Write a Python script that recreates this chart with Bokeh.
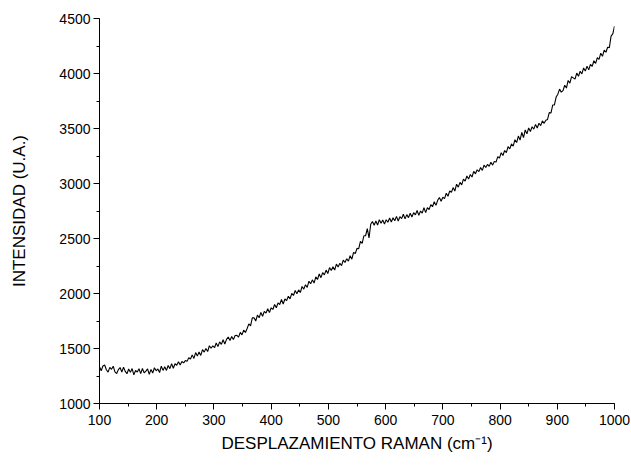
from bokeh.plotting import figure
from bokeh.models import Range1d, SingleIntervalTicker
from bokeh.embed import file_html
from bokeh.resources import INLINE

# Raman shift (cm^-1), every 3 cm^-1 from 100 to 1000
raman_shift = list(range(100, 1001, 3))

# Intensity (a.u.)
intensity = [
    1335, 1298, 1341, 1350, 1307, 1285, 1328, 1311, 1339, 1287,
    1272, 1308, 1327, 1285, 1330, 1292, 1271, 1314, 1283, 1318,
    1260, 1300, 1286, 1316, 1272, 1318, 1278, 1294, 1314, 1265,
    1310, 1277, 1325, 1297, 1314, 1282, 1339, 1301, 1334, 1301,
    1345, 1317, 1363, 1320, 1361, 1348, 1379, 1351, 1382, 1369,
    1390, 1383, 1416, 1404, 1442, 1410, 1463, 1431, 1469, 1437,
    1490, 1467, 1500, 1472, 1525, 1502, 1525, 1507, 1550, 1517,
    1560, 1537, 1579, 1541, 1583, 1605, 1572, 1609, 1581, 1618,
    1620, 1603, 1646, 1624, 1667, 1645, 1682, 1724, 1706, 1778,
    1780, 1750, 1804, 1779, 1828, 1793, 1837, 1822, 1861, 1826,
    1870, 1855, 1900, 1870, 1915, 1900, 1945, 1905, 1950, 1935,
    1975, 1951, 2001, 1982, 2027, 1998, 2033, 2009, 2064, 2040,
    2080, 2056, 2112, 2088, 2124, 2095, 2151, 2127, 2178, 2144,
    2190, 2169, 2213, 2182, 2236, 2210, 2244, 2213, 2267, 2241,
    2275, 2254, 2303, 2282, 2316, 2295, 2344, 2312, 2373, 2364,
    2410, 2407, 2474, 2456, 2525, 2525, 2590, 2505, 2630, 2655,
    2620, 2659, 2622, 2671, 2639, 2668, 2631, 2670, 2648, 2687,
    2650, 2689, 2662, 2701, 2659, 2698, 2681, 2720, 2678, 2717,
    2690, 2730, 2695, 2735, 2715, 2755, 2710, 2750, 2730, 2780,
    2735, 2781, 2762, 2808, 2789, 2835, 2801, 2847, 2873, 2839,
    2875, 2863, 2911, 2884, 2932, 2920, 2963, 2931, 2994, 2967,
    3010, 2987, 3039, 3021, 3068, 3040, 3082, 3059, 3111, 3088,
    3125, 3108, 3146, 3119, 3167, 3145, 3173, 3156, 3194, 3167,
    3200, 3195, 3245, 3230, 3280, 3255, 3300, 3280, 3335, 3315,
    3360, 3339, 3398, 3372, 3431, 3395, 3464, 3418, 3487, 3451,
    3505, 3473, 3516, 3494, 3537, 3505, 3548, 3526, 3569, 3547,
    3575, 3582, 3644, 3641, 3713, 3715, 3786, 3812, 3858, 3830,
    3844, 3893, 3868, 3937, 3912, 3971, 3960, 3949, 4004, 3974,
    4020, 3996, 4051, 4022, 4067, 4033, 4083, 4065, 4116, 4092,
    4143, 4129, 4185, 4156, 4212, 4193, 4239, 4235, 4340, 4360,
    4430,
]

x_label = "DESPLAZAMIENTO RAMAN (cm\u207b\u00b9)"
y_label = "INTENSIDAD (U.A.)"

p = figure(width=631, height=465, output_backend="svg", toolbar_location=None,
           x_range=Range1d(100, 1000), y_range=Range1d(1000, 4500),
           min_border_left=99, min_border_right=17, min_border_top=18,
           min_border_bottom=62)
p.outline_line_color = None
p.grid.visible = False
p.background_fill_color = "white"
p.border_fill_color = "white"

p.line(raman_shift, intensity, line_color="black", line_width=1.1)

p.xaxis.ticker = SingleIntervalTicker(interval=100, num_minor_ticks=2)
p.yaxis.ticker = SingleIntervalTicker(interval=500, num_minor_ticks=2)

for ax in (p.xaxis[0], p.yaxis[0]):
    ax.axis_line_color = "black"
    ax.axis_line_width = 1
    ax.major_tick_in = 0
    ax.major_tick_out = 6
    ax.minor_tick_in = 0
    ax.minor_tick_out = 3
    ax.major_tick_line_color = "black"
    ax.minor_tick_line_color = "black"
    ax.major_label_text_font = "Liberation Sans"
    ax.major_label_text_font_size = "14px"
    ax.major_label_text_color = "black"
    ax.axis_label_text_font = "Liberation Sans"
    ax.axis_label_text_font_size = "17px"
    ax.axis_label_text_font_style = "normal"
    ax.axis_label_text_color = "black"

p.xaxis.axis_label = x_label
p.yaxis.axis_label = y_label
p.xaxis.major_label_standoff = 5
p.yaxis.major_label_standoff = 3
p.xaxis.axis_label_standoff = 6
p.yaxis.axis_label_standoff = 27

open("out.html", "w").write(file_html(p, INLINE))
